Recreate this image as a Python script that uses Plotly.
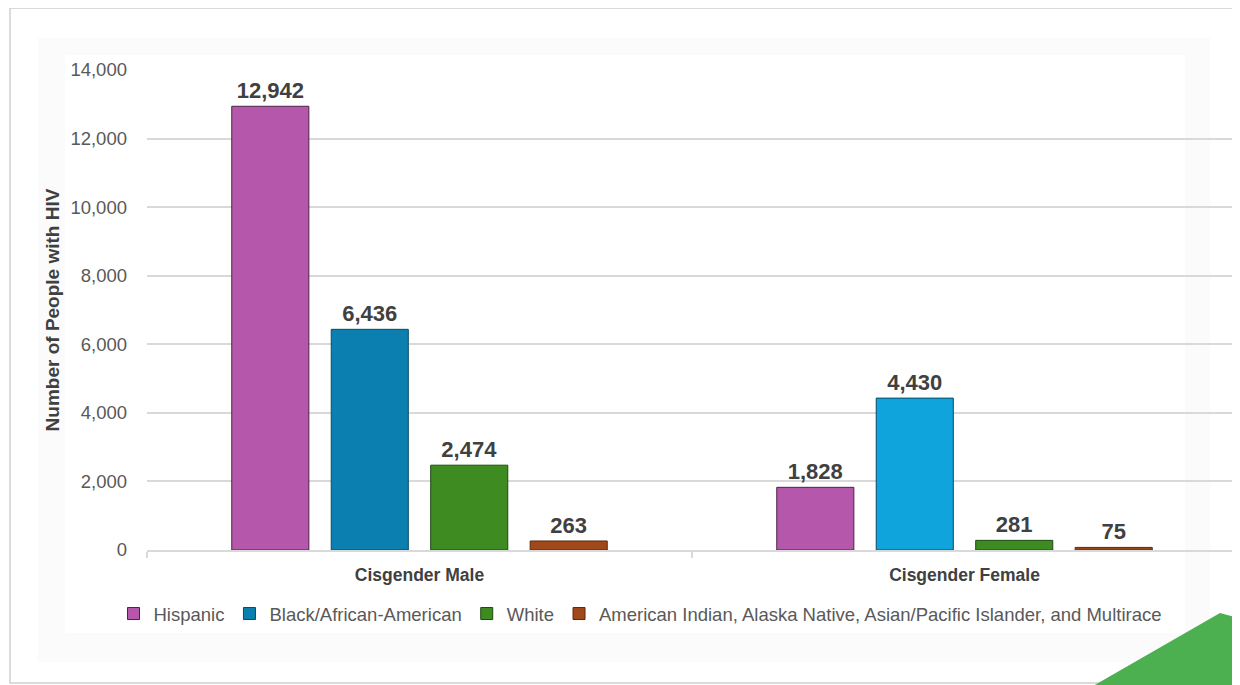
import plotly.graph_objects as go

categories = ["Cisgender Male", "Cisgender Female"]
series_names = ["Hispanic", "Black/African-American", "White",
                "American Indian, Alaska Native, Asian/Pacific Islander, and Multirace"]
hispanic = [12942, 1828]
black = [6436, 4430]
white = [2474, 281]
other = [263, 75]
y_ticks = [0, 2000, 4000, 6000, 8000, 10000, 12000, 14000]

values = [hispanic, black, white, other]
colors = [["#B558AB", "#B558AB"], ["#0B80B0", "#10A4DC"], ["#3E8B22", "#3E8B22"], ["#A0481A", "#A0481A"]]
edge = ["#4A2346", "#0A4A66", "#1F4A12", "#5A2A0E"]

OFF = 8  # browser body margin
PL, PR, PT, PB = 147, 1237, 70, 550   # plot area in screen pixels
W, H = PR - PL, PB - PT
FW, FH = 1240 - OFF, 685 - OFF
def px(x):
    return (x - PL) / W
def py(y):
    return (PB - y) / H

fig = go.Figure()
for name, vals, col, ec in zip(series_names, values, colors, edge):
    fig.add_trace(go.Bar(
        name=name, x=categories, y=vals,
        marker=dict(color=col, line=dict(color=ec, width=1)),
        text=[f"{v:,}" for v in vals], textposition="outside",
        textfont=dict(family="Liberation Sans, Arial", size=22, color="#404040", weight="bold"),
        cliponaxis=False,
    ))

shapes = [
    dict(type="rect", xref="paper", yref="paper", x0=px(38), x1=px(1210), y0=py(662), y1=py(38),
         fillcolor="#FBFBFB", line=dict(width=0), layer="below"),
    dict(type="rect", xref="paper", yref="paper", x0=px(65), x1=px(1185), y0=py(633), y1=py(55),
         fillcolor="#FFFFFF", line=dict(width=0), layer="below"),
    dict(type="rect", xref="paper", yref="paper", x0=px(10), x1=px(1237), y0=py(683), y1=py(8),
         fillcolor="rgba(0,0,0,0)", line=dict(color="#D0D0D0", width=1.5), layer="below"),
    dict(type="path", xref="paper", yref="paper",
         path=f"M {px(1093)},{py(686)} L {px(1220)},{py(613)} L {px(1242)},{py(619)} L {px(1242)},{py(686)} Z",
         fillcolor="#4CAF50", line=dict(width=0), layer="above"),
]

fig.update_layout(
    width=FW, height=FH,
    margin=dict(l=PL - OFF, r=FW - (PR - OFF), t=PT - OFF, b=FH - (PB - OFF)),
    paper_bgcolor="#FFFFFF", plot_bgcolor="rgba(0,0,0,0)",
    barmode="group", bargap=0.27, bargroupgap=0.225,
    font=dict(family="Liberation Sans, Arial", color="#595959"),
    showlegend=True,
    legend=dict(orientation="h", x=px(640), xanchor="center", y=py(614), yanchor="middle",
                font=dict(family="Liberation Sans, Arial", size=18.5, color="#595959"),
                bgcolor="rgba(0,0,0,0)", itemwidth=30, traceorder="normal"),
    shapes=shapes,
    yaxis=dict(range=[0, 14000], tickvals=y_ticks, ticktext=[f"{v:,}" for v in y_ticks],
               tickfont=dict(size=18.5, color="#595959"), showgrid=True, gridcolor="#D9D9D9",
               gridwidth=1.5, zeroline=False, showline=False, ticks="", ticklabelstandoff=19,
               title=dict(text="Number of People with HIV", standoff=5,
                          font=dict(size=19, color="#404040", weight="bold"))),
    xaxis=dict(tickfont=dict(size=17.5, color="#404040", weight="bold"), showline=True,
               linecolor="#D9D9D9", linewidth=1.5, ticks="outside", tickson="boundaries",
               ticklen=6, tickcolor="#D9D9D9", tickwidth=1.5, showgrid=False,
               ticklabelstandoff=8),
)
fig.write_html("out.html")
